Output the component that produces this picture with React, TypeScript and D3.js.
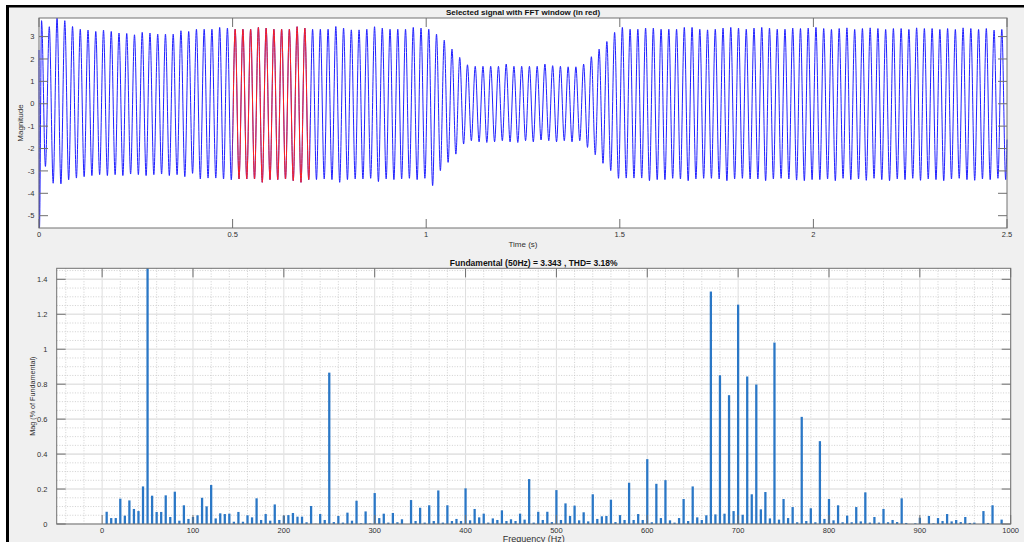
import { useRef, useEffect } from 'react';
import * as d3 from 'd3';

// ---- top panel: selected signal ----
// extremes; one peak and one trough per 50 Hz cycle
const PERIOD = 0.02;
const PEAK_T0 = 0.0066;
const TROUGH_T0 = 0.0166;
const SIGNAL_START = [
  { t: 0, v: 2.4 },
  { t: 0.0012, v: -5.55 },
];
const SIGNAL_END = { t: 2.5, v: -1.6 };
const PEAKS = [
  3.71, 3.44, 3.83, 3.71, 3.45, 3.33, 3.29, 3.23, 3.29, 3.23, 3.16, 3.14, 3.08, 3.19, 3.16, 3.11, 3.11, 3.11, 3.26, 3.23, 3.33, 3.33, 3.33, 3.41, 3.38,
  3.33, 3.33, 3.33, 3.41, 3.38, 3.33, 3.33, 3.33, 3.44, 3.38, 3.33, 3.33, 3.33, 3.45, 3.38, 3.3, 3.3, 3.33, 3.44, 3.38, 3.33, 3.33, 3.33, 3.41, 3.38,
  3.33, 3.11, 2.84, 2.44, 2.07, 1.74, 1.67, 1.67, 1.67, 1.67, 1.77, 1.67, 1.67, 1.67, 1.67, 1.77, 1.7, 1.67, 1.65, 1.65, 1.77, 2.1, 2.44, 2.78, 3.19,
  3.41, 3.33, 3.33, 3.38, 3.38, 3.33, 3.33, 3.33, 3.41, 3.41, 3.33, 3.3, 3.33, 3.38, 3.41, 3.38, 3.33, 3.38, 3.41, 3.38, 3.33, 3.33, 3.38, 3.36, 3.38,
  3.41, 3.36, 3.32, 3.36, 3.39, 3.32, 3.36, 3.39, 3.36, 3.32, 3.36, 3.36, 3.32, 3.39, 3.36, 3.36, 3.32, 3.36, 3.32, 3.39, 3.36, 3.32, 3.36, 3.29, 3.32,
];
const TROUGHS = [
  -2.8, -3.55, -3.58, -3.4, -3.32, -3.26, -3.21, -3.17, -3.21, -3.17, -3.21, -3.14, -3.17, -3.21, -3.17, -3.14, -3.21, -3.17, -3.26, -3.11, -3.36, -3.32, -3.32, -3.36, -3.4,
  -3.36, -3.36, -3.36, -3.51, -3.39, -3.39, -3.36, -3.44, -3.51, -3.39, -3.39, -3.36, -3.39, -3.51, -3.39, -3.36, -3.36, -3.33, -3.48, -3.36, -3.39, -3.36, -3.33, -3.39, -3.33,
  -3.66, -2.99, -2.62, -2.25, -1.8, -1.65, -1.7, -1.73, -1.7, -1.65, -1.7, -1.73, -1.65, -1.7, -1.62, -1.65, -1.7, -1.65, -1.7, -1.65, -1.95, -2.28, -2.66, -2.99, -3.33,
  -3.32, -3.32, -3.32, -3.44, -3.39, -3.39, -3.33, -3.36, -3.44, -3.36, -3.33, -3.33, -3.36, -3.44, -3.36, -3.33, -3.36, -3.36, -3.44, -3.36, -3.33, -3.36, -3.41, -3.44, -3.39,
  -3.39, -3.36, -3.44, -3.33, -3.39, -3.36, -3.42, -3.33, -3.39, -3.44, -3.36, -3.39, -3.33, -3.42, -3.36, -3.39, -3.44, -3.36, -3.33, -3.39, -3.42, -3.36, -3.39, -3.33, -3.39,
];
const FFT_WINDOW = [0.5, 0.7];
const TIME_DOMAIN = [0, 2.5];
const MAG_DOMAIN = [-5.55, 3.83];
const TIME_TICKS = [0, 0.5, 1, 1.5, 2, 2.5];
const MAG_TICKS = [-5, -4, -3, -2, -1, 0, 1, 2, 3];

// ---- bottom panel: spectrum, % of fundamental, every 5 Hz from 5 Hz ----
const HARMONIC_STEP_HZ = 5;
const HARMONICS = [
  0.07, 0.034, 0.034, 0.145, 0.048, 0.135, 0.086, 0.074, 0.215, 100, 0.162, 0.069, 0.069, 0.164, 0.04, 0.185, 0.019, 0.107, 0.029, 0.04,
  0.05, 0.15, 0.101, 0.223, 0.032, 0.061, 0.057, 0.059, 0.013, 0.069, 0.013, 0.05, 0.038, 0.147, 0.023, 0.057, 0.019, 0.112, 0.023, 0.048,
  0.051, 0.063, 0.042, 0.042, 0.01, 0.103, 0.002, 0.057, 0.023, 0.866, 0.011, 0.046, 0.008, 0.065, 0.019, 0.133, 0.004, 0.072, 0.003, 0.177,
  0.034, 0.059, 0.008, 0.063, 0.01, 0.027, 0.0, 0.137, 0.017, 0.093, 0.008, 0.107, 0.017, 0.192, 0.008, 0.107, 0.017, 0.029, 0.017, 0.204,
  0.021, 0.086, 0.038, 0.059, 0.008, 0.032, 0.023, 0.078, 0.017, 0.027, 0.017, 0.059, 0.025, 0.257, 0.008, 0.07, 0.023, 0.07, 0.011, 0.194,
  0.023, 0.118, 0.046, 0.105, 0.021, 0.067, 0.015, 0.17, 0.029, 0.044, 0.046, 0.139, 0.011, 0.051, 0.023, 0.236, 0.023, 0.057, 0.023, 0.371,
  0.01, 0.23, 0.034, 0.251, 0.021, 0.008, 0.034, 0.143, 0.017, 0.215, 0.038, 0.023, 0.05, 1.33, 0.055, 0.851, 0.059, 0.737, 0.074, 1.255,
  0.053, 0.844, 0.17, 0.798, 0.084, 0.183, 0.032, 1.038, 0.025, 0.143, 0.034, 0.097, 0.01, 0.613, 0.017, 0.09, 0.01, 0.474, 0.029, 0.143,
  0.021, 0.107, 0.01, 0.048, 0.01, 0.097, 0.015, 0.181, 0.008, 0.04, 0.008, 0.086, 0.01, 0.023, 0.011, 0.147, 0.006, 0.0, 0.004, 0.036,
  0.0, 0.046, 0.004, 0.034, 0.017, 0.057, 0.015, 0.023, 0.011, 0.04, 0.006, 0.008, 0.0, 0.074, 0.006, 0.107, 0.0, 0.025, 0.0,
];
const FREQ_DOMAIN = [-50, 1000];
const PCT_DOMAIN = [0, 1.463];
const FREQ_TICKS = [0, 100, 200, 300, 400, 500, 600, 700, 800, 900, 1000];
const PCT_TICKS = [0, 0.2, 0.4, 0.6, 0.8, 1, 1.2, 1.4];

const FONT = '"Liberation Sans", Arial, Helvetica, sans-serif';
const AXIS = '#707070';
const TEXT = '#303030';

export default function App() {
  const svgRef = useRef<SVGSVGElement>(null);

  useEffect(() => {
    if (!svgRef.current) return;
    const svg = d3.select(svgRef.current);
    svg.selectAll('*').remove();

    // figure background with the black frame at top/left
    svg.append('rect').attr('width', 1024).attr('height', 542).attr('fill', '#fff');
    svg.append('rect').attr('x', 6).attr('y', 5).attr('width', 1018).attr('height', 537).attr('fill', '#000');
    svg.append('rect').attr('x', 9).attr('y', 7.5).attr('width', 1015).attr('height', 535).attr('fill', '#f0f0f0');

    const defs = svg.append('defs');

    // ================= top panel =================
    const a1 = { l: 39, r: 1007, t: 18, b: 228 };
    const x1 = d3.scaleLinear().domain(TIME_DOMAIN).range([a1.l, a1.r]);
    const y1 = d3.scaleLinear().domain(MAG_DOMAIN).range([a1.b, a1.t]);

    svg.append('rect').attr('x', a1.l).attr('y', a1.t).attr('width', a1.r - a1.l).attr('height', a1.b - a1.t).attr('fill', '#fff');

    const pts: { t: number; v: number }[] = [...SIGNAL_START];
    PEAKS.forEach((p, k) => {
      pts.push({ t: PEAK_T0 + k * PERIOD, v: p });
      pts.push({ t: TROUGH_T0 + k * PERIOD, v: TROUGHS[k] });
    });
    pts.push(SIGNAL_END);

    const line = d3
      .line<{ t: number; v: number }>()
      .x((d) => x1(d.t))
      .y((d) => y1(d.v))
      .curve(d3.curveMonotoneX);

    defs.append('clipPath').attr('id', 'fftwin')
      .append('rect')
      .attr('x', x1(FFT_WINDOW[0])).attr('y', a1.t)
      .attr('width', x1(FFT_WINDOW[1]) - x1(FFT_WINDOW[0])).attr('height', a1.b - a1.t);

    svg.append('path').attr('d', line(pts)).attr('fill', 'none').attr('stroke', '#2020ff').attr('stroke-width', 1);
    svg.append('path').attr('d', line(pts)).attr('fill', 'none').attr('stroke', '#ff2020').attr('stroke-width', 1)
      .attr('clip-path', 'url(#fftwin)');

    const tick = 9;
    const g1 = svg.append('g').attr('stroke', AXIS).attr('stroke-width', 1);
    TIME_TICKS.forEach((t) => {
      g1.append('line').attr('x1', x1(t)).attr('x2', x1(t)).attr('y1', a1.b).attr('y2', a1.b - tick);
      g1.append('line').attr('x1', x1(t)).attr('x2', x1(t)).attr('y1', a1.t).attr('y2', a1.t + tick);
    });
    MAG_TICKS.forEach((v) => {
      g1.append('line').attr('x1', a1.l).attr('x2', a1.l + tick).attr('y1', y1(v)).attr('y2', y1(v));
      g1.append('line').attr('x1', a1.r).attr('x2', a1.r - tick).attr('y1', y1(v)).attr('y2', y1(v));
    });
    g1.append('rect').attr('x', a1.l).attr('y', a1.t).attr('width', a1.r - a1.l).attr('height', a1.b - a1.t).attr('fill', 'none');

    const txt = svg.append('g').attr('font-family', FONT).attr('fill', TEXT);
    TIME_TICKS.forEach((t) => {
      txt.append('text').attr('x', x1(t)).attr('y', 237).attr('text-anchor', 'middle').attr('font-size', 7.5).text(String(t));
    });
    MAG_TICKS.forEach((v) => {
      txt.append('text').attr('x', 34.5).attr('y', y1(v) + 2.7).attr('text-anchor', 'end').attr('font-size', 7.5).text(String(v));
    });
    txt.append('text').attr('x', (a1.l + a1.r) / 2).attr('y', 246.5).attr('text-anchor', 'middle').attr('font-size', 8).text('Time (s)');
    txt.append('text').attr('transform', `translate(23,${(a1.t + a1.b) / 2}) rotate(-90)`).attr('text-anchor', 'middle')
      .attr('font-size', 8).text('Magnitude');
    svg.append('text').attr('x', (a1.l + a1.r) / 2).attr('y', 15.3).attr('text-anchor', 'middle').attr('font-family', FONT)
      .attr('font-weight', 'bold').attr('font-size', 8).attr('fill', '#111').text('Selected signal with FFT window (in red)');

    // ================= bottom panel =================
    const a2 = { l: 56.7, r: 1010.7, t: 268.3, b: 524 };
    const x2 = d3.scaleLinear().domain(FREQ_DOMAIN).range([a2.l, a2.r]);
    const y2 = d3.scaleLinear().domain(PCT_DOMAIN).range([a2.b, a2.t]);

    svg.append('rect').attr('x', a2.l).attr('y', a2.t).attr('width', a2.r - a2.l).attr('height', a2.b - a2.t).attr('fill', '#fff');

    const grid = svg.append('g');
    d3.range(-40, 1000, 20).filter((f) => f % 100 !== 0).forEach((f) => {
      grid.append('line').attr('x1', x2(f)).attr('x2', x2(f)).attr('y1', a2.t).attr('y2', a2.b)
        .attr('stroke', '#c4c4c4').attr('stroke-width', 0.8).attr('stroke-dasharray', '1,1.6');
    });
    d3.range(1, 30).map((i) => i * 0.05).filter((v) => Math.round(v * 100) % 20 !== 0 && v < PCT_DOMAIN[1]).forEach((v) => {
      grid.append('line').attr('x1', a2.l).attr('x2', a2.r).attr('y1', y2(v)).attr('y2', y2(v))
        .attr('stroke', '#c4c4c4').attr('stroke-width', 0.8).attr('stroke-dasharray', '1,1.6');
    });
    FREQ_TICKS.forEach((f) => {
      grid.append('line').attr('x1', x2(f)).attr('x2', x2(f)).attr('y1', a2.t).attr('y2', a2.b)
        .attr('stroke', '#dedede').attr('stroke-width', 1);
    });
    PCT_TICKS.forEach((v) => {
      grid.append('line').attr('x1', a2.l).attr('x2', a2.r).attr('y1', y2(v)).attr('y2', y2(v))
        .attr('stroke', '#e4e4e4').attr('stroke-width', 1.6);
    });

    defs.append('clipPath').attr('id', 'specclip')
      .append('rect').attr('x', a2.l).attr('y', a2.t).attr('width', a2.r - a2.l).attr('height', a2.b - a2.t);

    const bw = x2(2.5) - x2(0);
    svg.append('g').attr('clip-path', 'url(#specclip)')
      .selectAll('rect')
      .data(HARMONICS)
      .join('rect')
      .attr('x', (_, i) => x2((i + 1) * HARMONIC_STEP_HZ) - bw / 2)
      .attr('y', (d) => y2(d))
      .attr('width', bw)
      .attr('height', (d) => a2.b - y2(d))
      .attr('fill', '#2a77c6');

    const g2 = svg.append('g').attr('stroke', AXIS).attr('stroke-width', 1);
    FREQ_TICKS.forEach((f) => {
      g2.append('line').attr('x1', x2(f)).attr('x2', x2(f)).attr('y1', a2.b).attr('y2', a2.b - tick);
      g2.append('line').attr('x1', x2(f)).attr('x2', x2(f)).attr('y1', a2.t).attr('y2', a2.t + tick);
    });
    PCT_TICKS.forEach((v) => {
      g2.append('line').attr('x1', a2.l).attr('x2', a2.l + tick).attr('y1', y2(v)).attr('y2', y2(v));
      g2.append('line').attr('x1', a2.r).attr('x2', a2.r - tick).attr('y1', y2(v)).attr('y2', y2(v));
    });
    g2.append('rect').attr('x', a2.l).attr('y', a2.t).attr('width', a2.r - a2.l).attr('height', a2.b - a2.t).attr('fill', 'none');

    FREQ_TICKS.forEach((f) => {
      txt.append('text').attr('x', x2(f)).attr('y', 533).attr('text-anchor', 'middle').attr('font-size', 7.5).text(String(f));
    });
    PCT_TICKS.forEach((v) => {
      txt.append('text').attr('x', 47.5).attr('y', y2(v) + 2.7).attr('text-anchor', 'end').attr('font-size', 7.5).text(String(v));
    });
    txt.append('text').attr('x', (a2.l + a2.r) / 2).attr('y', 541.5).attr('text-anchor', 'middle').attr('font-size', 9)
      .text('Frequency (Hz)');
    txt.append('text').attr('transform', `translate(35,${(a2.t + a2.b) / 2}) rotate(-90)`).attr('text-anchor', 'middle')
      .attr('font-size', 7.2).text('Mag (% of Fundamental)');
    svg.append('text').attr('x', (a2.l + a2.r) / 2).attr('y', 266).attr('text-anchor', 'middle').attr('font-family', FONT)
      .attr('font-weight', 'bold').attr('font-size', 8.5).attr('fill', '#111').text('Fundamental (50Hz) = 3.343 , THD= 3.18%');
  }, []);

  return <svg ref={svgRef} width={1024} height={542} style={{ position: 'absolute', left: 0, top: 0 }} />;
}
